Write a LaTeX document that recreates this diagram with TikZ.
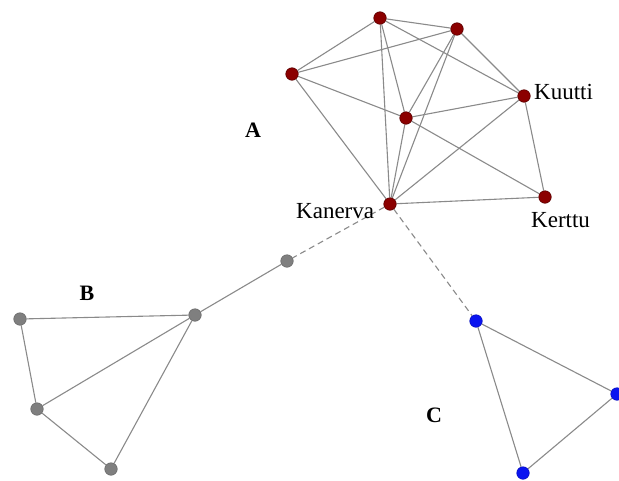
\documentclass[tikz,border=0pt]{standalone}
\usepackage{fontspec}
\setmainfont{Liberation Serif}
\usetikzlibrary{backgrounds}
\definecolor{redn}{HTML}{8B0000}
\definecolor{redd}{HTML}{5A0000}
\definecolor{grayn}{HTML}{7F7F7F}
\definecolor{grayd}{HTML}{6A6A6A}
\definecolor{bluen}{HTML}{0A14F0}
\definecolor{edgec}{HTML}{8A8A8A}
\tikzset{
  vr/.style={circle,fill=redn,draw=redd,line width=0.6pt,inner sep=0pt,minimum size=12.5pt},
  vg/.style={circle,fill=grayn,draw=grayd,line width=0.6pt,inner sep=0pt,minimum size=12.5pt},
  vb/.style={circle,fill=bluen,draw=bluen!80!black,line width=0.6pt,inner sep=0pt,minimum size=12.5pt},
  ed/.style={draw=edgec,line width=1.1pt},
  dd/.style={draw=edgec,line width=1.1pt,dashed,dash pattern=on 6pt off 4pt},
  nm/.style={font=\fontsize{23}{26}\selectfont,inner sep=0pt,anchor=base west},
  grp/.style={font=\fontsize{22}{24}\selectfont\bfseries,inner sep=0pt}
}
\begin{document}
\begin{tikzpicture}[x=1pt,y=-1pt]
\useasboundingbox (0,0) rectangle (619,480);
\clip (0,0) rectangle (619,480);
% red cluster
\node[vr] (r1) at (380,18) {};
\node[vr] (r2) at (457,29) {};
\node[vr] (r3) at (292,74) {};
\node[vr] (ku) at (524,96) {};
\node[vr] (rc) at (406,118) {};
\node[vr] (ka) at (390,204) {};
\node[vr] (ke) at (545,197) {};
% gray cluster
\node[vg] (g1) at (287,261) {};
\node[vg] (g2) at (195,315) {};
\node[vg] (g3) at (20,319) {};
\node[vg] (g4) at (37,409) {};
\node[vg] (g5) at (111,469) {};
% blue cluster
\node[vb] (b1) at (476,321) {};
\node[vb] (b2) at (617,394) {};
\node[vb] (b3) at (523,473) {};
% labels
\node[nm] (lka) at (296,218) {Kanerva};
\node[nm] (lku) at (534,99) {Kuutti};
\node[nm] (lke) at (531,227) {Kerttu};
\node[grp] (la) at (253,130) {A};
\node[grp] (lb) at (87,293) {B};
\node[grp] (lc) at (434,415) {C};
\begin{scope}[on background layer]
\draw[ed] (r1) -- (r2);
\draw[ed] (r1) -- (r3);
\draw[ed] (r1) -- (ku);
\draw[ed] (r1) -- (rc);
\draw[ed] (r1) -- (ka);
\draw[ed] (r2) -- (r3);
\draw[ed] (r2) -- (ku);
\draw[ed] (r2) -- (rc);
\draw[ed] (r2) -- (ka);
\draw[ed] (r3) -- (rc);
\draw[ed] (r3) -- (ka);
\draw[ed] (rc) -- (ku);
\draw[ed] (ka) -- (ku);
\draw[ed] (ku) -- (ke);
\draw[ed] (rc) -- (ke);
\draw[ed] (rc) -- (ka);
\draw[ed] (ka) -- (ke);
\draw[dd] (ka) -- (g1);
\draw[dd] (ka) -- (b1);
\draw[ed] (g1) -- (g2);
\draw[ed] (g2) -- (g3);
\draw[ed] (g2) -- (g4);
\draw[ed] (g2) -- (g5);
\draw[ed] (g3) -- (g4);
\draw[ed] (g4) -- (g5);
\draw[ed] (b1) -- (b2);
\draw[ed] (b1) -- (b3);
\draw[ed] (b2) -- (b3);
\end{scope}
\end{tikzpicture}
\end{document}
